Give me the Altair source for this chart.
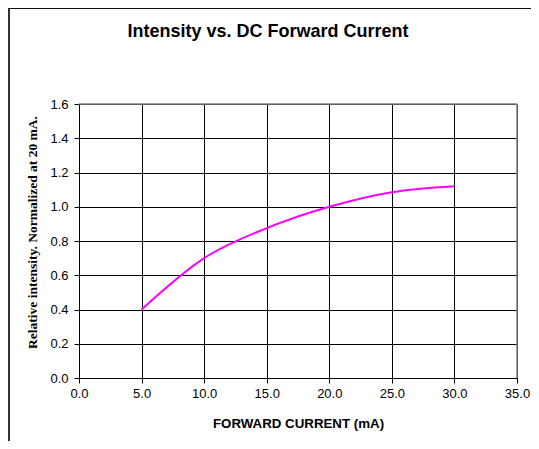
import altair as alt
import pandas as pd

current = [5.0, 10.0, 15.0, 20.0, 25.0, 30.0]
intensity = [0.40, 0.70, 0.875, 1.00, 1.085, 1.12]
x_ticks = [0, 5, 10, 15, 20, 25, 30, 35]
y_ticks = [0, 0.2, 0.4, 0.6, 0.8, 1.0, 1.2, 1.4, 1.6]
title_text = ["Intensity vs. DC Forward Current"]

df = pd.DataFrame({"current": current, "intensity": intensity})
one = pd.DataFrame({"a": [0]})
tdf = pd.DataFrame({"t": title_text})

W, H = 438, 274
PL, PT, PR, PB = 71, 96, 14, 63

x_enc = alt.X("current:Q", scale=alt.Scale(domain=[0, 35], nice=False),
              axis=alt.Axis(values=x_ticks, format=".1f", title="FORWARD CURRENT (mA)",
                            titleFont="Liberation Sans", titleFontSize=13.3, titleFontWeight="bold",
                            titleColor="black", titleBaseline="alphabetic", titleY=49,
                            labelFont="Liberation Sans", labelFontSize=13, labelColor="black",
                            labelPadding=4, tickSize=5, tickColor="black", domainColor="black",
                            gridColor="black", gridOpacity=1, labelFlush=False))
y_enc = alt.Y("intensity:Q", scale=alt.Scale(domain=[0, 1.6], nice=False),
              axis=alt.Axis(values=y_ticks, format=".1f",
                            title="Relative intensity. Normalized at 20 mA.",
                            titleFont="Liberation Serif", titleFontSize=13.5, titleFontWeight="bold",
                            titleColor="black", titleBaseline="alphabetic", titleAngle=270,
                            titleX=-43, titleY=128, titleAlign="center",
                            labelFont="Liberation Sans", labelFontSize=13, labelColor="black",
                            labelPadding=6, tickSize=5, tickColor="black", domainColor="black",
                            gridColor="black", gridOpacity=1, labelFlush=False))

line = alt.Chart(df).mark_line(color="#FF00FF", strokeWidth=2, interpolate="monotone").encode(
    x=x_enc, y=y_enc)

frame_top = alt.Chart(one).mark_rule(color="#808080", strokeWidth=1.5).encode(
    x=alt.value(0), x2=alt.value(W), y=alt.value(0))
frame_right = alt.Chart(one).mark_rule(color="#808080", strokeWidth=1.5).encode(
    x=alt.value(W), y=alt.value(0), y2=alt.value(H))
outer_left = alt.Chart(one).mark_rule(color="#333333", strokeWidth=2).encode(
    x=alt.value(-PL + 1), y=alt.value(-PT), y2=alt.value(H + PB))
outer_top = alt.Chart(one).mark_rule(color="#111111", strokeWidth=1).encode(
    x=alt.value(-PL), x2=alt.value(W + PR), y=alt.value(-PT + 0.5))
title = alt.Chart(tdf).mark_text(font="Liberation Sans", fontSize=18, fontWeight="bold",
                                 color="black", align="center", baseline="alphabetic").encode(
    text="t:N", x=alt.value(268 - 79), y=alt.value(37 - 104))

chart = alt.layer(line, frame_top, frame_right, outer_left, outer_top, title).properties(
    width=W, height=H,
    autosize=alt.AutoSizeParams(type="none"),
    padding={"left": PL, "top": PT, "right": PR, "bottom": PB},
    background="white",
).configure_view(stroke=None)

chart.save("out.html", embed_options={"renderer": "svg", "actions": False})
